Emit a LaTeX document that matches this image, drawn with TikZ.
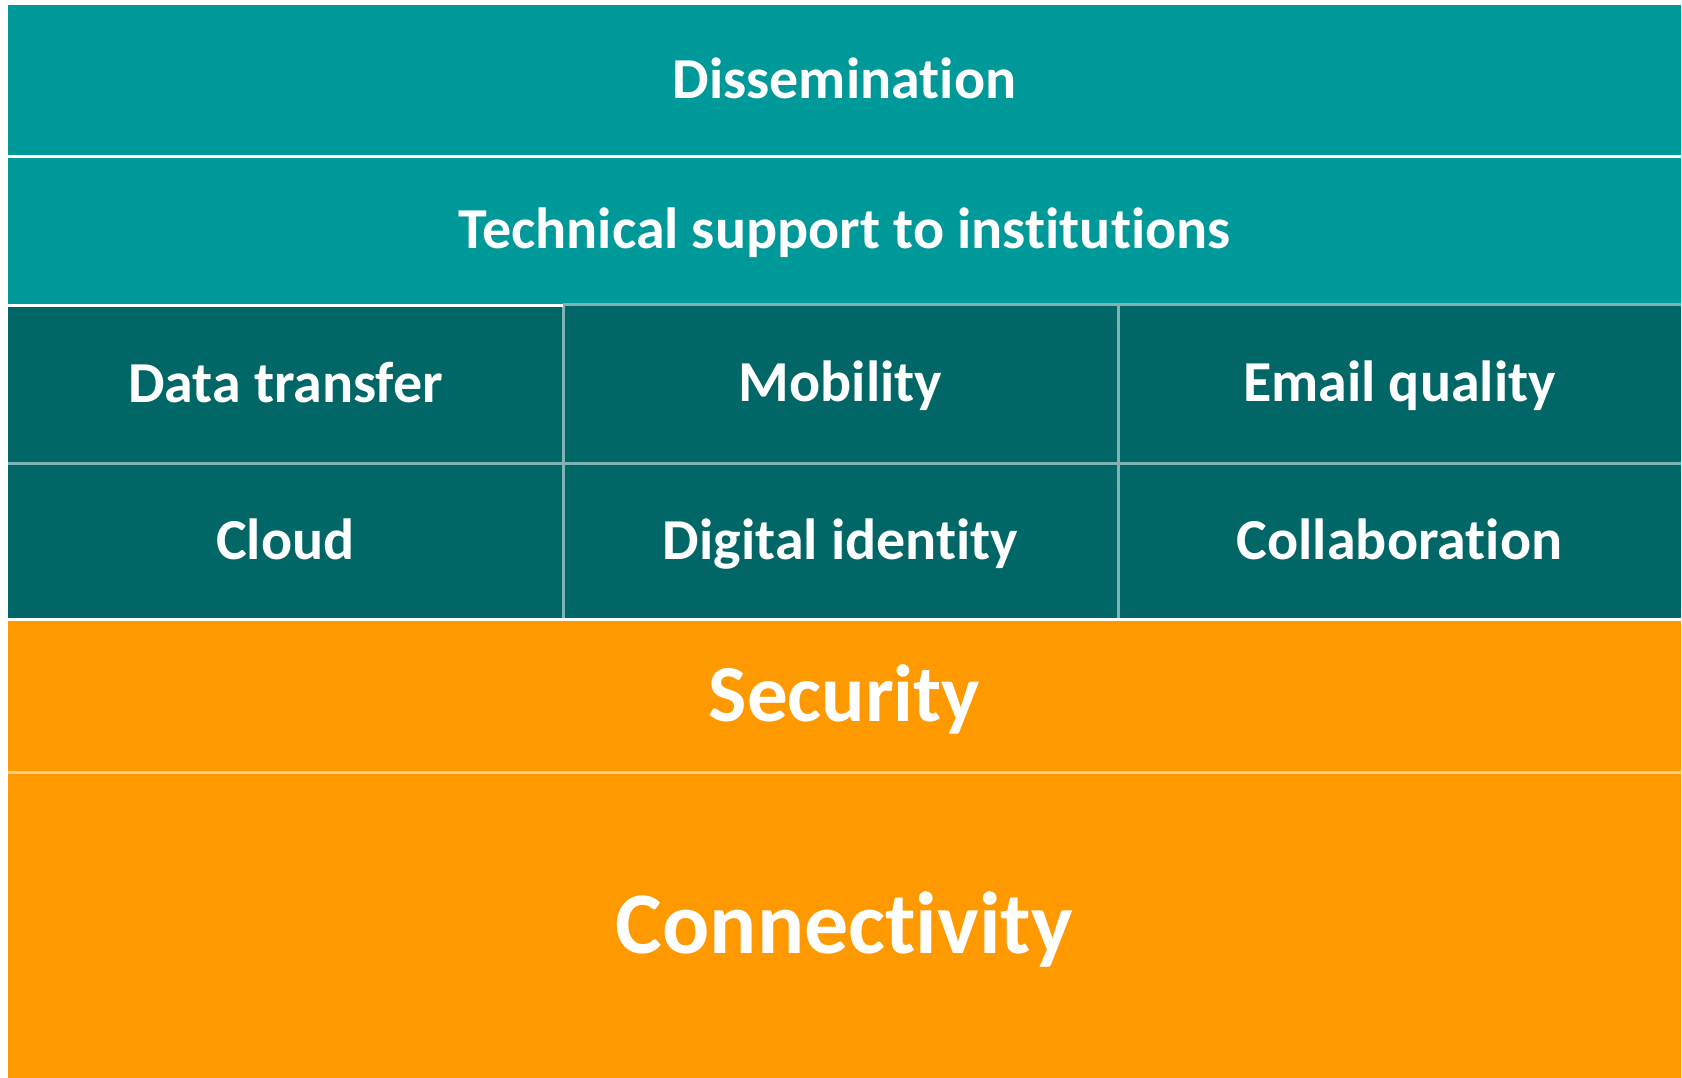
\documentclass[tikz,border=0pt]{standalone}
\usepackage{fontspec}
\setmainfont{Carlito}[Ligatures=NoCommon]
\definecolor{tealA}{HTML}{009999}
\definecolor{tealB}{HTML}{006666}
\definecolor{orangeA}{HTML}{FF9900}
\definecolor{gridline}{HTML}{80B3B3}
\definecolor{orangeline}{HTML}{FFCC88}
\begin{document}
\begin{tikzpicture}[x=1pt,y=-1pt,
  cell/.style={rectangle, anchor=north west, inner sep=0pt, outer sep=0pt,
    text=white, font=\bfseries\fontsize{58}{63}\selectfont,
    text height=36pt, text depth=0pt, align=center},
  toprow/.style={cell, fill=tealA},
  midcell/.style={cell, fill=tealB},
  baserow/.style={cell, fill=orangeA},
  sepline/.style={line width=3pt, white},
  gridsep/.style={line width=3pt, gridline},
]
\useasboundingbox (0,0) rectangle (1682,1078);
\fill[white] (0,0) rectangle (1682,1078);
% top rows
\node[toprow, minimum width=1673pt, minimum height=152pt] (diss) at (8,5) {Dissemination};
\node[toprow, minimum width=1673pt, minimum height=148pt] (tech) at (8,157) {Technical support to institutions};
% middle grid
\node[midcell, minimum width=555pt, minimum height=158pt] (dtr) at (8,305) {Data transfer};
\node[midcell, minimum width=555pt, minimum height=159pt] (mob) at (563,304) {Mobility};
\node[midcell, minimum width=563pt, minimum height=159pt] (email) at (1118,304) {Email quality};
\node[midcell, minimum width=555pt, minimum height=156pt] (cloud) at (8,463) {Cloud};
\node[midcell, minimum width=555pt, minimum height=156pt] (digid) at (563,463) {Digital identity};
\node[midcell, minimum width=563pt, minimum height=156pt] (collab) at (1118,463) {Collaboration};
% base rows
\node[baserow, minimum width=1673pt, minimum height=153pt,
  font=\bfseries\fontsize{81}{88}\selectfont, text height=51pt] (sec) at (8,619) {Security};
\node[baserow, minimum width=1673pt, minimum height=306pt,
  font=\bfseries\fontsize{88}{96}\selectfont, text height=56pt] (conn) at (8,772) {Connectivity};
% grid separators
\draw[gridsep] (mob.north west) -- (email.north east);
\draw[gridsep] (dtr.south west) -- (email.south east);
\draw[gridsep] (mob.north west) -- (digid.south west);
\draw[gridsep] (email.north west) -- (collab.south west);
% white separators
\draw[sepline] (diss.south west) -- (diss.south east);
\draw[sepline] (dtr.north west) -- (dtr.north east);
\draw[sepline] (cloud.south west) -- (collab.south east);
\draw[line width=3pt, orangeline] (sec.south west) -- (sec.south east);
\end{tikzpicture}
\end{document}
